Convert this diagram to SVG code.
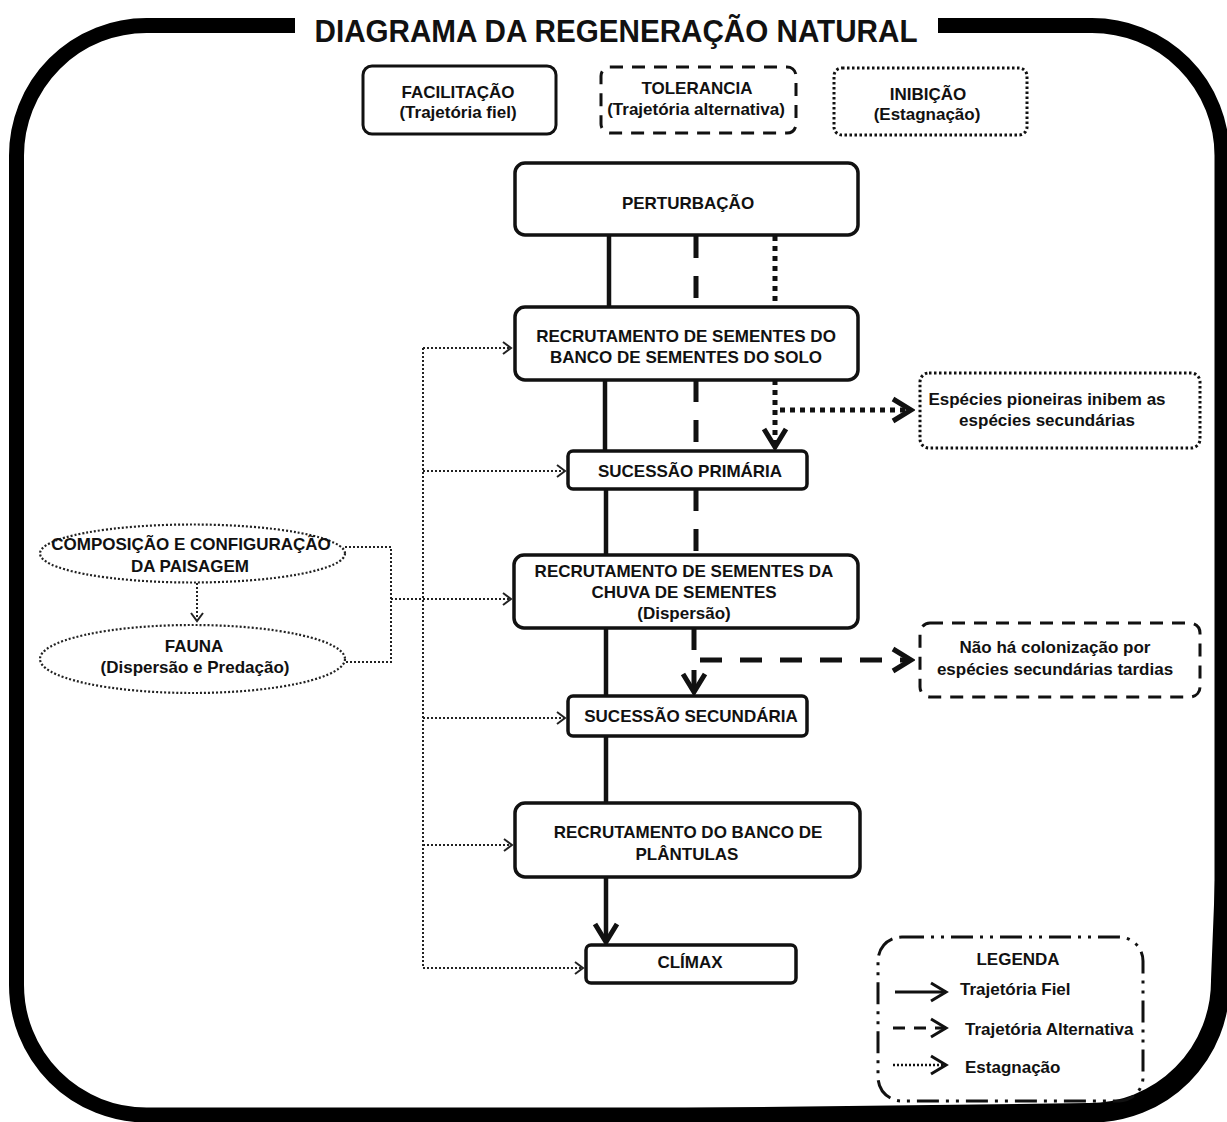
<svg xmlns="http://www.w3.org/2000/svg" width="1227" height="1122" viewBox="0 0 1227 1122">
<defs>
<style>
text{font-family:"Liberation Sans",Arial,sans-serif;font-weight:bold;font-size:17px;fill:#111;text-anchor:middle}
.box{fill:#fff;stroke:#111;stroke-width:3.5}
.dash{fill:#fff;stroke:#111;stroke-width:3;stroke-dasharray:13 9}
.dot{fill:#fff;stroke:#111;stroke-width:3;stroke-dasharray:2.5 2.5}
.thin{fill:none;stroke:#222;stroke-width:2;stroke-dasharray:2 2}
.thinE{fill:#fff;stroke:#222;stroke-width:2.2;stroke-dasharray:2 2}
.solid{fill:none;stroke:#111;stroke-width:4.5}
.tdash{fill:none;stroke:#111;stroke-width:5;stroke-dasharray:22 18}
.tdot{fill:none;stroke:#111;stroke-width:5;stroke-dasharray:5 5}
.lg{text-anchor:start}
</style>
<marker id="bigV" viewBox="0 0 26 28" refX="22" refY="14" markerWidth="26" markerHeight="28" markerUnits="userSpaceOnUse" orient="auto">
<path d="M4,3 L22,14 L4,25" fill="none" stroke="#111" stroke-width="5"/>
</marker>
<marker id="smV" viewBox="0 0 12 16" refX="10" refY="8" markerWidth="12" markerHeight="16" markerUnits="userSpaceOnUse" orient="auto">
<path d="M2,2 L10,8 L2,14" fill="none" stroke="#222" stroke-width="2"/>
</marker>
<marker id="legV" viewBox="0 0 20 22" refX="17" refY="11" markerWidth="20" markerHeight="22" markerUnits="userSpaceOnUse" orient="auto">
<path d="M2,2 L17,11 L2,20" fill="none" stroke="#111" stroke-width="3"/>
</marker>
</defs>
<rect width="1227" height="1122" fill="#fff"/>

<g id="frame">
<path d="M295,25.5 H146.5 A130,130 0 0 0 16.5,155.5 V985 A130,130 0 0 0 146.5,1115 H1092 A130,130 0 0 0 1222,985 V155.5 A130,130 0 0 0 1092,25.5 H938" fill="none" stroke="#000" stroke-width="15"/>
<path d="M450,1115 L1088,1107 A126,126 0 0 0 1215,980 L1219,880" fill="none" stroke="#000" stroke-width="8"/>
<text x="616" y="42" font-size="31" textLength="603" lengthAdjust="spacingAndGlyphs" style="font-size:31px">DIAGRAMA DA REGENERAÇÃO NATURAL</text>
</g>

<g id="legend-facilitacao">
<rect class="box" x="363" y="66" width="193" height="68" rx="9" style="stroke-width:3"/>
<text x="458" y="98">FACILITAÇÃO</text>
<text x="458" y="118">(Trajetória fiel)</text>
</g>
<g id="legend-tolerancia">
<rect class="dash" x="601" y="67" width="195" height="66" rx="9"/>
<text x="697" y="94">TOLERANCIA</text>
<text x="696" y="115">(Trajetória alternativa)</text>
</g>
<g id="legend-inibicao">
<rect class="dot" x="834" y="68" width="193" height="67" rx="8"/>
<text x="928" y="100">INIBIÇÃO</text>
<text x="927" y="120">(Estagnação)</text>
</g>

<g id="connectors">
<path class="solid" d="M609,236 V306"/>
<path class="solid" d="M605,380 V451"/>
<path class="solid" d="M606,489 V555"/>
<path class="solid" d="M606,628 V696"/>
<path class="solid" d="M606,736 V803"/>
<path class="solid" d="M606,877 V942" marker-end="url(#bigV)"/>

<path class="tdash" d="M696,236 V306"/>
<path class="tdash" d="M696,380 V451"/>
<path class="tdash" d="M696,489 V555"/>
<path class="tdash" d="M694,628 V650"/>
<path fill="none" stroke="#111" stroke-width="5" d="M694,670 V692" marker-end="url(#bigV)"/>
<path class="tdash" d="M700,660 H911" marker-end="url(#bigV)"/>

<path class="tdot" d="M775,236 V306"/>
<path class="tdot" d="M775,380 V447" marker-end="url(#bigV)"/>
<path class="tdot" d="M780,410 H911" marker-end="url(#bigV)"/>

<path class="thin" d="M423,348 V968"/>
<path class="thin" d="M423,348 H511" marker-end="url(#smV)"/>
<path class="thin" d="M423,471 H565" marker-end="url(#smV)"/>
<path class="thin" d="M391,599 H511" marker-end="url(#smV)"/>
<path class="thin" d="M423,718 H565" marker-end="url(#smV)"/>
<path class="thin" d="M423,845 H512" marker-end="url(#smV)"/>
<path class="thin" d="M423,968 H583" marker-end="url(#smV)"/>
<path class="thin" d="M345,547 H391 V662 H345"/>
<path class="thin" d="M197,583 V621" marker-end="url(#smV)"/>
</g>

<g id="node-perturbacao">
<rect class="box" x="515" y="163" width="343" height="72" rx="10"/>
<text x="688" y="209">PERTURBAÇÃO</text>
</g>
<g id="node-banco-solo">
<rect class="box" x="515" y="307" width="343" height="73" rx="10"/>
<text x="686" y="342">RECRUTAMENTO DE SEMENTES DO</text>
<text x="686" y="363">BANCO DE SEMENTES DO SOLO</text>
</g>
<g id="node-primaria">
<rect class="box" x="568" y="451" width="239" height="38" rx="5"/>
<text x="690" y="477">SUCESSÃO PRIMÁRIA</text>
</g>
<g id="node-chuva">
<rect class="box" x="514" y="555" width="344" height="73" rx="10"/>
<text x="684" y="577">RECRUTAMENTO DE SEMENTES DA</text>
<text x="684" y="598">CHUVA DE SEMENTES</text>
<text x="684" y="619">(Dispersão)</text>
</g>
<g id="node-secundaria">
<rect class="box" x="568" y="696" width="239" height="40" rx="5"/>
<text x="691" y="722">SUCESSÃO SECUNDÁRIA</text>
</g>
<g id="node-plantulas">
<rect class="box" x="515" y="803" width="345" height="74" rx="10"/>
<text x="688" y="838">RECRUTAMENTO DO BANCO DE</text>
<text x="687" y="860">PLÂNTULAS</text>
</g>
<g id="node-climax">
<rect class="box" x="586" y="945" width="210" height="38" rx="5"/>
<text x="690" y="968">CLÍMAX</text>
</g>

<g id="node-pioneiras">
<rect class="dot" x="920" y="373" width="280" height="75" rx="9"/>
<text x="1047" y="405">Espécies pioneiras inibem as</text>
<text x="1047" y="426">espécies secundárias</text>
</g>
<g id="node-colonizacao">
<rect class="dash" x="920" y="623" width="280" height="74" rx="10"/>
<text x="1055" y="653">Não há colonização por</text>
<text x="1055" y="675">espécies secundárias tardias</text>
</g>

<g id="node-paisagem">
<ellipse class="thinE" cx="192.5" cy="553.5" rx="152.5" ry="29"/>
<text x="191" y="550">COMPOSIÇÃO E CONFIGURAÇÃO</text>
<text x="190" y="572">DA PAISAGEM</text>
</g>
<g id="node-fauna">
<ellipse class="thinE" cx="192.5" cy="659" rx="152.5" ry="34"/>
<text x="194" y="652">FAUNA</text>
<text x="195" y="673">(Dispersão e Predação)</text>
</g>

<g id="legenda">
<rect x="878" y="937" width="265" height="164" rx="24" fill="none" stroke="#111" stroke-width="3" stroke-dasharray="22 7 3 7 3 7"/>
<text x="1018" y="965">LEGENDA</text>
<path d="M895,992 H946" fill="none" stroke="#111" stroke-width="3" marker-end="url(#legV)"/>
<text class="lg" x="960" y="995">Trajetória Fiel</text>
<path d="M893,1028 H946" fill="none" stroke="#111" stroke-width="3" stroke-dasharray="12 9" marker-end="url(#legV)"/>
<text class="lg" x="965" y="1035">Trajetória Alternativa</text>
<path d="M893,1065 H946" fill="none" stroke="#111" stroke-width="2.5" stroke-dasharray="2 2" marker-end="url(#legV)"/>
<text class="lg" x="965" y="1073">Estagnação</text>
</g>
</svg>
